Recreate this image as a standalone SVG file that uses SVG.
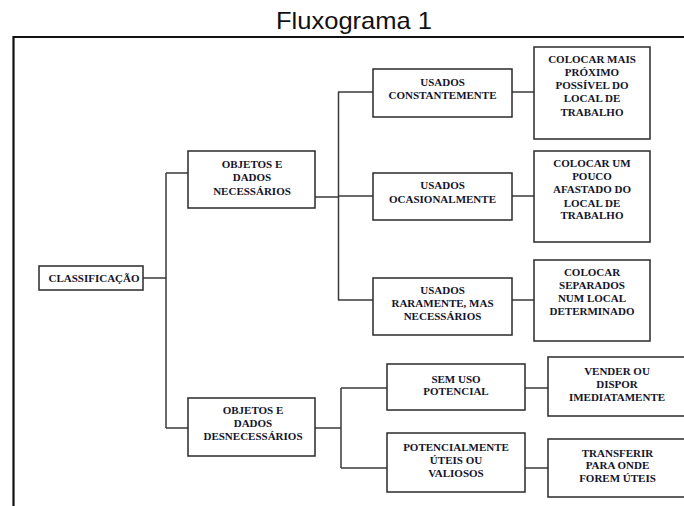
<svg xmlns="http://www.w3.org/2000/svg" width="684" height="506" viewBox="0 0 684 506">
<style>
.box{fill:#fff;stroke:#2a2a2a;stroke-width:1.5}
.ln{fill:none;stroke:#3a3a3a;stroke-width:1.5}
.t{font-family:"Liberation Serif","Times New Roman",serif;font-weight:bold;font-size:11px;fill:#14142a;text-anchor:middle}
.title{font-family:"Liberation Sans",Arial,sans-serif;font-size:24px;fill:#111;text-anchor:middle}
</style>
<rect width="684" height="506" fill="#fff"/>
<text class="title" x="354" y="28.5" textLength="156" lengthAdjust="spacingAndGlyphs">Fluxograma 1</text>
<path d="M13.5 506 V37 H684" fill="none" stroke="#111" stroke-width="2.2"/>
<g id="connectors">
<path class="ln" d="M143 278 H166 M166 173 V428 M166 173 H188 M166 428 H188"/>
<path class="ln" d="M315 197 H339 M338.5 92 V300 M338 92 H373 M338 196 H373 M338 300 H373"/>
<path class="ln" d="M512 92 H534 M512 196 H534 M512 300 H534"/>
<path class="ln" d="M315 428 H341 M341 388 V468 M341 388 H387 M341 468 H387"/>
<path class="ln" d="M525 388 H548 M525 468 H548"/>
</g>
<g id="classificacao"><rect class="box" x="39" y="266" width="104" height="24"/><text class="t" x="94" y="282">CLASSIFICAÇÃO</text></g>
<g id="necessarios"><rect class="box" x="188" y="151" width="127" height="57"/><text class="t" x="252" y="167.5">OBJETOS E<tspan x="252" y="181">DADOS</tspan><tspan x="252" y="194.5">NECESSÁRIOS</tspan></text></g>
<g id="desnecessarios"><rect class="box" x="188" y="398" width="127" height="58"/><text class="t" x="253" y="414">OBJETOS E<tspan x="253" y="426.5">DADOS</tspan><tspan x="253" y="439.5">DESNECESSÁRIOS</tspan></text></g>
<g id="constantemente"><rect class="box" x="373" y="69" width="139" height="48"/><text class="t" x="442.5" y="85.5">USADOS<tspan x="442.5" y="99">CONSTANTEMENTE</tspan></text></g>
<g id="ocasionalmente"><rect class="box" x="373" y="173" width="139" height="47"/><text class="t" x="442.5" y="189">USADOS<tspan x="442.5" y="202.5">OCASIONALMENTE</tspan></text></g>
<g id="raramente"><rect class="box" x="373" y="278" width="139" height="57"/><text class="t" x="442.5" y="294">USADOS<tspan x="442.5" y="307">RARAMENTE, MAS</tspan><tspan x="442.5" y="320">NECESSÁRIOS</tspan></text></g>
<g id="colocar-mais"><rect class="box" x="534" y="47" width="116" height="92"/><text class="t" x="592" y="62.5">COLOCAR MAIS<tspan x="592" y="75.8">PRÓXIMO</tspan><tspan x="592" y="89">POSSÍVEL DO</tspan><tspan x="592" y="102.3">LOCAL DE</tspan><tspan x="592" y="115.5">TRABALHO</tspan></text></g>
<g id="colocar-um"><rect class="box" x="534" y="151" width="116" height="91"/><text class="t" x="592" y="167">COLOCAR UM<tspan x="592" y="180">POUCO</tspan><tspan x="592" y="193.3">AFASTADO DO</tspan><tspan x="592" y="206.5">LOCAL DE</tspan><tspan x="592" y="219">TRABALHO</tspan></text></g>
<g id="colocar-separados"><rect class="box" x="534" y="260" width="116" height="81"/><text class="t" x="592" y="276">COLOCAR<tspan x="592" y="289.3">SEPARADOS</tspan><tspan x="592" y="302.3">NUM LOCAL</tspan><tspan x="592" y="315.3">DETERMINADO</tspan></text></g>
<g id="sem-uso"><rect class="box" x="387" y="364" width="138" height="46"/><text class="t" x="456" y="382.5">SEM USO<tspan x="456" y="395">POTENCIAL</tspan></text></g>
<g id="potencialmente"><rect class="box" x="387" y="433" width="138" height="59"/><text class="t" x="456" y="451">POTENCIALMENTE<tspan x="456" y="463.5">ÚTEIS OU</tspan><tspan x="456" y="476.5">VALIOSOS</tspan></text></g>
<g id="vender"><rect class="box" x="548" y="357" width="145" height="59"/><text class="t" x="617" y="375">VENDER OU<tspan x="617" y="388">DISPOR</tspan><tspan x="617" y="401">IMEDIATAMENTE</tspan></text></g>
<g id="transferir"><rect class="box" x="548" y="439" width="145" height="58"/><text class="t" x="617.5" y="456.5">TRANSFERIR<tspan x="617.5" y="469.3">PARA ONDE</tspan><tspan x="617.5" y="482">FOREM ÚTEIS</tspan></text></g>
</svg>
